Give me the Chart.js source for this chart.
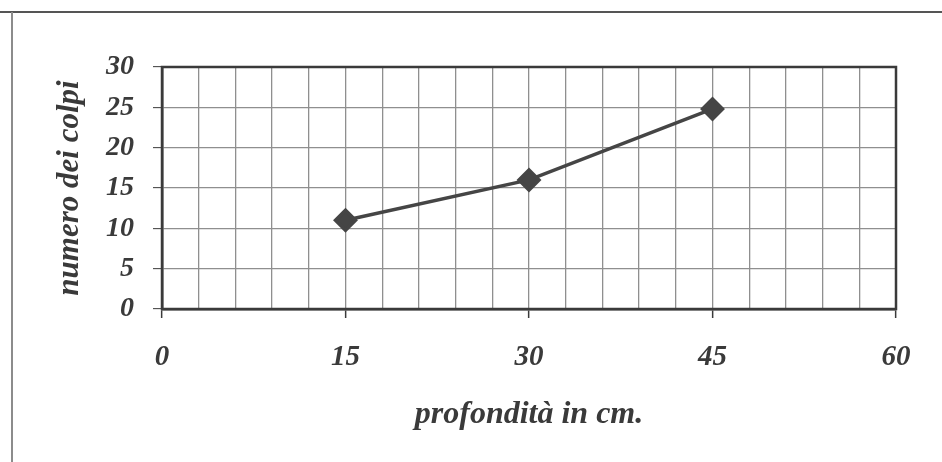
<!DOCTYPE html>
<html>
<head>
<meta charset="utf-8">
<script src="https://cdn.jsdelivr.net/npm/chart.js@4"></script>
<style>
  html, body { margin: 0; padding: 0; background: #ffffff; }
  #wrap { position: relative; width: 942px; height: 462px; }
  canvas { display: block; }
</style>
</head>
<body>
<div id="wrap"><canvas id="c" width="942" height="462"></canvas></div>
<script>
// ---- data ----
const depthsCm = [15, 30, 45];
const blowCounts = [11, 16, 24.8];
const xLabelValues = [0, 15, 30, 45, 60];
const xTitle = 'profondità in cm.';
const yTitle = 'numero dei colpi';

const serif = "'Liberation Serif', 'Times New Roman', serif";
const ink = '#3a3a3a';
const gridCol = '#8f8f8f';

const framePlugin = {
  id: 'frame',
  beforeDraw(chart) {
    const ctx = chart.ctx;
    ctx.save();
    ctx.fillStyle = '#ffffff';
    ctx.fillRect(0, 0, chart.width, chart.height);
    ctx.lineWidth = 2;
    ctx.strokeStyle = '#555555';
    ctx.beginPath();
    ctx.moveTo(0, 12); ctx.lineTo(chart.width, 12);
    ctx.stroke();
    ctx.strokeStyle = '#8c8c8c';
    ctx.beginPath();
    ctx.moveTo(12, 12); ctx.lineTo(12, chart.height);
    ctx.stroke();
    ctx.restore();
  },
  beforeDatasetsDraw(chart) {
    const {ctx, chartArea: a} = chart;
    ctx.save();
    ctx.strokeStyle = ink;
    ctx.lineWidth = 2.5;
    ctx.strokeRect(a.left, a.top, a.right - a.left, a.bottom - a.top);
    ctx.restore();
  }
};

new Chart(document.getElementById('c'), {
  type: 'scatter',
  data: {
    datasets: [{
      data: depthsCm.map((d, i) => ({x: d, y: blowCounts[i]})),
      showLine: true,
      borderColor: '#454545',
      borderWidth: 3.5,
      pointStyle: 'rectRot',
      pointRadius: 10,
      pointHoverRadius: 10,
      pointBackgroundColor: '#454545',
      pointBorderColor: '#454545',
      tension: 0
    }]
  },
  options: {
    responsive: false,
    animation: false,
    events: [],
    layout: { padding: { left: 0, right: 46, top: 67, bottom: 23 } },
    plugins: { legend: { display: false }, tooltip: { enabled: false } },
    scales: {
      x: {
        type: 'linear',
        min: 0, max: 60,
        afterFit(s) { s.height = 130; },
        ticks: {
          stepSize: 3,
          autoSkip: false,
          maxRotation: 0,
          padding: 22,
          color: ink,
          font: { family: serif, size: 29, style: 'italic', weight: 'bold' },
          callback: v => (xLabelValues.includes(v) ? String(v) : '')
        },
        grid: {
          color: gridCol,
          lineWidth: 1.3,
          tickLength: 9,
          tickColor: c => (c.tick && xLabelValues.includes(c.tick.value) ? ink : 'rgba(0,0,0,0)'),
          tickWidth: 1.5
        },
        border: { color: ink, width: 2.5 },
        title: {
          display: true, text: xTitle, color: ink,
          font: { family: serif, size: 32, style: 'italic', weight: 'bold' },
          padding: { top: 0, bottom: 5 }
        }
      },
      y: {
        type: 'linear',
        min: 0, max: 30,
        afterFit(s) { s.width = 162; },
        ticks: {
          stepSize: 5,
          padding: 19,
          color: ink,
          font: { family: serif, size: 28, style: 'italic', weight: 'bold' }
        },
        grid: {
          color: gridCol,
          lineWidth: 1.3,
          tickLength: 9,
          tickColor: ink,
          tickWidth: 1
        },
        border: { color: ink, width: 2.5 },
        title: {
          display: true, text: yTitle, color: ink,
          font: { family: serif, size: 31, style: 'italic', weight: 'bold' },
          padding: { top: 51, bottom: 0 }
        }
      }
    }
  },
  plugins: [framePlugin]
});
</script>
</body>
</html>
